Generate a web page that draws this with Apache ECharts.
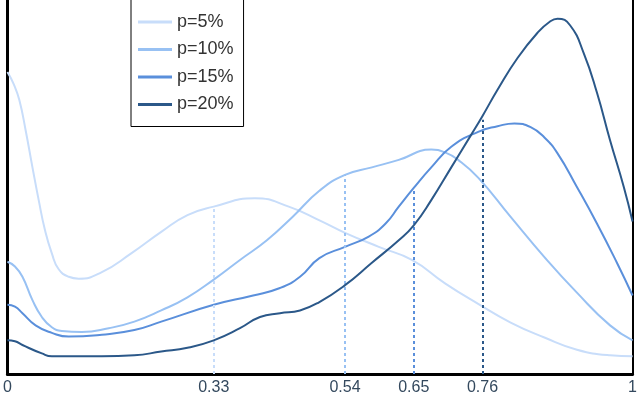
<!DOCTYPE html>
<html>
<head>
    <meta charset="utf-8">
    <script src="https://cdn.jsdelivr.net/npm/echarts@6/dist/echarts.min.js"></script>
    <style type="text/css">
        body { margin: 0; }
        #main { width: 640px; height: 397px; }
    </style>
</head>
<body>
    <div id="main"></div>
    <script>
        // density curves, [x, density]
        const p5 = [[0,3.23],[0.01,3.10],[0.019,2.93],[0.029,2.61],[0.04,2.21],[0.05,1.86],[0.06,1.54],[0.071,1.29],[0.082,1.12],[0.098,1.04],[0.114,1.02],[0.151,1.09],[0.198,1.29],[0.246,1.52],[0.288,1.70],[0.33,1.79],[0.396,1.88],[0.45,1.79],[0.50,1.64],[0.54,1.51],[0.594,1.36],[0.647,1.22],[0.70,0.97],[0.753,0.75],[0.805,0.55],[0.859,0.39],[0.911,0.26],[0.964,0.20],[1,0.19]];
        const p10 = [[0,1.20],[0.012,1.15],[0.024,1.04],[0.04,0.79],[0.055,0.61],[0.071,0.50],[0.087,0.46],[0.119,0.45],[0.162,0.49],[0.203,0.56],[0.246,0.68],[0.288,0.82],[0.33,1.01],[0.372,1.22],[0.415,1.43],[0.456,1.68],[0.499,1.96],[0.54,2.13],[0.583,2.21],[0.626,2.29],[0.678,2.40],[0.70,2.37],[0.721,2.29],[0.753,2.10],[0.805,1.68],[0.859,1.25],[0.911,0.87],[0.964,0.52],[1,0.36]];
        const p15 = [[0,0.74],[0.012,0.72],[0.024,0.65],[0.045,0.52],[0.071,0.44],[0.098,0.40],[0.151,0.42],[0.203,0.47],[0.246,0.56],[0.33,0.74],[0.393,0.84],[0.436,0.92],[0.468,1.04],[0.499,1.24],[0.54,1.36],[0.578,1.47],[0.605,1.61],[0.626,1.79],[0.65,1.99],[0.678,2.21],[0.71,2.43],[0.753,2.59],[0.784,2.65],[0.811,2.68],[0.837,2.64],[0.859,2.53],[0.88,2.36],[0.911,2.00],[0.943,1.61],[0.975,1.19],[1,0.84]];
        const p20 = [[0,0.36],[0.012,0.35],[0.024,0.31],[0.055,0.22],[0.071,0.19],[0.151,0.19],[0.203,0.20],[0.246,0.24],[0.288,0.28],[0.33,0.36],[0.372,0.49],[0.404,0.61],[0.436,0.65],[0.468,0.68],[0.499,0.77],[0.54,0.95],[0.583,1.19],[0.626,1.43],[0.65,1.59],[0.678,1.86],[0.71,2.21],[0.742,2.56],[0.76,2.76],[0.784,3.04],[0.816,3.38],[0.848,3.65],[0.868,3.77],[0.88,3.80],[0.90,3.73],[0.922,3.43],[0.943,3.01],[0.964,2.50],[0.986,2.00],[1,1.63]];

        const names = ['p=5%', 'p=10%', 'p=15%', 'p=20%'];
        const colors = ['#c8ddfa', '#98c1f3', '#5a8fdb', '#2b5889'];
        // vertical markers (x position, height on the curve)
        const markX = [0.33, 0.54, 0.65, 0.76];
        const markH = [1.79, 2.13, 1.99, 2.72];
        const tickVals = [0, 0.33, 0.54, 0.65, 0.76, 1];

        const curves = [p5, p10, p15, p20];

        const myChart = echarts.init(document.getElementById('main'));

        myChart.setOption({
            animation: false,
            grid: { left: 5, right: 4, top: 0, bottom: 23 },
            legend: {
                data: names,
                orient: 'vertical',
                left: 131,
                top: -2,
                padding: [14, 10, 12, 7],
                itemGap: 7.5,
                itemWidth: 34,
                itemHeight: 3,
                icon: 'rect',
                borderColor: '#000',
                borderWidth: 1,
                backgroundColor: '#fff',
                textStyle: { fontFamily: 'Liberation Sans', fontSize: 18, color: '#333', lineHeight: 20 }
            },
            xAxis: {
                type: 'value',
                min: 0,
                max: 1,
                splitLine: { show: false },
                axisTick: { show: false },
                axisLine: { lineStyle: { color: '#000', width: 3 } },
                axisLabel: {
                    customValues: tickVals,
                    formatter: v => String(v),
                    fontFamily: 'Liberation Sans',
                    fontSize: 16,
                    color: '#34495e',
                    margin: 6
                }
            },
            yAxis: [{
                type: 'value',
                min: 0,
                max: 4,
                splitLine: { show: false },
                axisLabel: { show: false },
                axisTick: { show: false },
                axisLine: { show: true, lineStyle: { color: '#000', width: 3 } }
            }, {
                type: 'value',
                position: 'right',
                min: 0,
                max: 4,
                splitLine: { show: false },
                axisLabel: { show: false },
                axisTick: { show: false },
                axisLine: { show: true, lineStyle: { color: '#000', width: 2 } }
            }],
            series: curves.map((d, i) => ({
                name: names[i],
                type: 'line',
                data: d,
                smooth: 0.5,
                showSymbol: false,
                z: 2 + i,
                lineStyle: { color: colors[i], width: 2 },
                itemStyle: { color: colors[i] },
                markLine: {
                    silent: true,
                    symbol: 'none',
                    label: { show: false },
                    lineStyle: { color: colors[i], type: [3, 3], width: 2 },
                    data: [[{ coord: [markX[i], 0] }, { coord: [markX[i], markH[i]] }]]
                }
            }))
        });
    </script>
</body>
</html>
